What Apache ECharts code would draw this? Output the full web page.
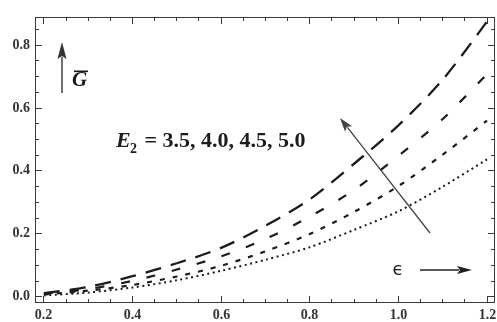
<!DOCTYPE html>
<html>
<head>
<meta charset="utf-8">
<script src="https://cdn.jsdelivr.net/npm/echarts@6/dist/echarts.min.js"></script>
<style>
  html, body { margin: 0; padding: 0; background: #fff; }
  #chart { width: 497px; height: 322px; }
</style>
</head>
<body>
<div id="chart"></div>
<script>
// epsilon sample points
const epsVals = [0.2, 0.3, 0.4, 0.5, 0.6, 0.7, 0.8, 0.9, 1.0, 1.1, 1.2]
// G-bar for each E2
const gE35 = [0.005, 0.014, 0.030, 0.053, 0.083, 0.118, 0.158, 0.213, 0.272, 0.350, 0.437]
const gE40 = [0.008, 0.020, 0.038, 0.065, 0.099, 0.145, 0.200, 0.270, 0.352, 0.452, 0.560]
const gE45 = [0.010, 0.025, 0.051, 0.087, 0.129, 0.184, 0.255, 0.340, 0.448, 0.565, 0.708]
const gE50 = [0.012, 0.032, 0.066, 0.107, 0.156, 0.226, 0.310, 0.423, 0.545, 0.690, 0.875]

// ticks
const xMajor = [0.2, 0.4, 0.6, 0.8, 1.0, 1.2]
const xMinor = [0.2, 0.25, 0.3, 0.35, 0.4, 0.45, 0.5, 0.55, 0.6, 0.65, 0.7, 0.75, 0.8, 0.85, 0.9, 0.95, 1.0, 1.05, 1.1, 1.15, 1.2]
const yMajor = [0.0, 0.2, 0.4, 0.6, 0.8]
const yMinor = [0.0, 0.05, 0.1, 0.15, 0.2, 0.25, 0.3, 0.35, 0.4, 0.45, 0.5, 0.55, 0.6, 0.65, 0.7, 0.75, 0.8, 0.85]

const xMin = 0.18, xMax = 1.218
const yMin = -0.016, yMax = 0.889

const axisInk = '#3a3a3a'
const ink = '#1c1c1c'
const labelFont = 'bold 14px "Liberation Serif"'

function lineSeries(name, vals, dash, width) {
    return {
        name, type: 'line',
        data: epsVals.map((x, i) => [x, vals[i]]),
        smooth: 0.3, symbol: 'none',
        lineStyle: { color: ink, width: width, type: dash, cap: 'butt' }
    }
}

function arrow(x1, y1, x2, y2, headLen, headW, color, lw) {
    const dx = x2 - x1, dy = y2 - y1
    const d = Math.sqrt(dx * dx + dy * dy)
    const ux = dx / d, uy = dy / d
    const bx = x2 - ux * headLen, by = y2 - uy * headLen
    const px = -uy * headW / 2, py = ux * headW / 2
    return [
        { type: 'line', shape: { x1, y1, x2: bx + ux * 2, y2: by + uy * 2 }, style: { stroke: color, lineWidth: lw } },
        { type: 'polygon', shape: { points: [[x2, y2], [bx + px, by + py], [bx + ux * 3, by + uy * 3], [bx - px, by - py]] }, style: { fill: color } }
    ]
}

// a filled 1px bar (used for the frame and the tick marks)
function bar(x, y, w, h) {
    return { type: 'rect', z: 100, shape: { x: x, y: y, width: w, height: h }, style: { fill: axisInk } }
}

const chart = echarts.init(document.getElementById('chart'))
chart.setOption({
    animation: false,
    grid: { left: 35, right: 2, top: 17, bottom: 20 },
    xAxis: {
        type: 'value', min: xMin, max: xMax,
        axisLine: { show: false }, axisTick: { show: false }, splitLine: { show: false }, axisLabel: { show: false }
    },
    yAxis: {
        type: 'value', min: yMin, max: yMax,
        axisLine: { show: false }, axisTick: { show: false }, splitLine: { show: false }, axisLabel: { show: false }
    },
    series: [
        lineSeries('E2=3.5', gE35, [2, 3.5], 2),
        lineSeries('E2=4.0', gE40, [5, 8], 2.2),
        lineSeries('E2=4.5', gE45, [9, 17], 2.2),
        lineSeries('E2=5.0', gE50, [16, 10], 2.3)
    ]
})

// frame, ticks and tick labels, placed through the chart's own scales
const toPx = (x, y) => chart.convertToPixel({ gridIndex: 0 }, [x, y])
const tl = toPx(xMin, yMax), br = toPx(xMax, yMin)
const gl = Math.floor(tl[0]), gt = Math.floor(tl[1]), gr = Math.floor(br[0]), gb = Math.floor(br[1])
const axisEls = [
    bar(gl, gt, gr - gl + 1, 1),
    bar(gl, gb, gr - gl + 1, 1),
    bar(gl, gt, 1, gb - gt + 1),
    bar(gr, gt, 1, gb - gt + 1)
]
xMinor.forEach(v => {
    const major = xMajor.includes(v)
    const x = Math.floor(toPx(v, 0)[0])
    const len = major ? 6 : 3
    axisEls.push(bar(x, gb - len, 1, len))
    axisEls.push(bar(x, gt + 1, 1, len))
    if (major) axisEls.push({ type: 'text', z: 100, x: x + 0.5, y: gb + 6, style: { text: v.toFixed(1), font: labelFont, fill: '#333', textAlign: 'center', textVerticalAlign: 'top' } })
})
yMinor.forEach(v => {
    const major = yMajor.includes(v)
    const y = Math.floor(toPx(xMin, v)[1])
    const len = major ? 6 : 3
    axisEls.push(bar(gl + 1, y, len, 1))
    axisEls.push(bar(gr - len, y, len, 1))
    if (major) axisEls.push({ type: 'text', z: 100, x: gl - 5, y: y + 0.5, style: { text: v.toFixed(1), font: labelFont, fill: '#333', textAlign: 'right', textVerticalAlign: 'middle' } })
})

chart.setOption({
    graphic: [
        ...axisEls,
        // G-bar label with upward arrow
        ...arrow(62, 93, 62, 42, 17, 9, '#333', 1.4),
        { type: 'text', x: 72, y: 91, style: { text: 'G', font: 'italic bold 21px "Liberation Serif"', fill: ink, textAlign: 'left', textVerticalAlign: 'bottom' } },
        { type: 'rect', shape: { x: 74, y: 70.5, width: 14, height: 1.6 }, style: { fill: ink } },
        // E2 legend text
        { type: 'text', x: 116, y: 152, style: { text: 'E', font: 'italic bold 22px "Liberation Serif"', fill: ink, textAlign: 'left', textVerticalAlign: 'bottom' } },
        { type: 'text', x: 130, y: 156, style: { text: '2', font: 'bold 14px "Liberation Serif"', fill: ink, textAlign: 'left', textVerticalAlign: 'bottom' } },
        { type: 'text', x: 139, y: 152, style: { text: ' = 3.5, 4.0, 4.5, 5.0', font: 'bold 22px "Liberation Serif"', fill: ink, textAlign: 'left', textVerticalAlign: 'bottom' } },
        // slanted arrow showing increase of E2
        ...arrow(430, 233, 340, 118, 14, 9, '#444', 1.3),
        // epsilon axis label with arrow
        { type: 'text', x: 398, y: 270, style: { text: 'ϵ', font: '18px "DejaVu Sans"', fill: ink, textAlign: 'center', textVerticalAlign: 'middle' } },
        ...arrow(420, 270, 472, 270, 15, 8, '#222', 1.4)
    ]
})
</script>
</body>
</html>
